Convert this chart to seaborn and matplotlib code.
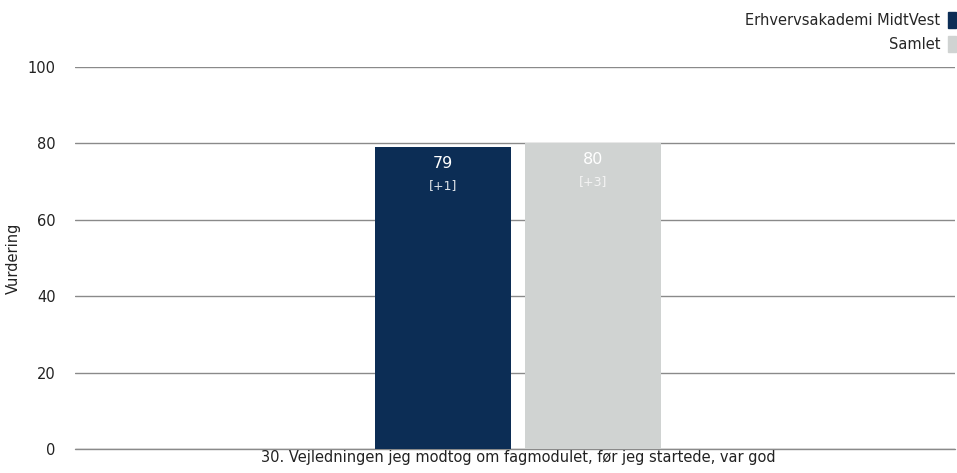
import matplotlib
matplotlib.use("Agg")
import matplotlib.pyplot as plt
import matplotlib.patches as mpatches
import pandas as pd
import seaborn as sns

# data
question = ["30. Vejledningen jeg modtog om fagmodulet, før jeg startede, var god"]
groups = ["Erhvervsakademi MidtVest", "Samlet"]
scores = [79, 80]
changes = ["[+1]", "[+3]"]
colors = ["#0c2d55", "#d0d3d2"]

df = pd.DataFrame({
    "spm": question * len(groups),
    "gruppe": groups,
    "score": scores,
})

sns.set_style("white")
plt.rcParams['font.family'] = ['DejaVu Sans']

fig = plt.figure(figsize=(9.57, 4.73), dpi=100)
ax = fig.add_axes([0.0784, 0.0507, 0.92, 0.8077])

sns.barplot(data=df, x="spm", y="score", hue="gruppe", palette=colors,
            width=0.34, gap=0.09, saturation=1, linewidth=0, ax=ax, legend=False)

ax.set_xlim(-0.503, 0.497)
ax.set_ylim(0, 100)
ax.set_yticks([0, 20, 40, 60, 80, 100])
ax.grid(axis='y', color='#8a8a8a', linewidth=1)
ax.axhline(0, color='#8a8a8a', linewidth=1, clip_on=False, zorder=0)
ax.set_axisbelow(True)
for s in ax.spines.values():
    s.set_visible(False)
ax.tick_params(axis='both', length=0, labelsize=10.5, colors='#222222')
ax.tick_params(axis='y', pad=14)
ax.tick_params(axis='x', pad=1)
ax.set_xlabel("")
ax.set_ylabel("Vurdering", fontsize=10.5, color='#222222', labelpad=5)

# value labels inside bars
label_cols = [("#ffffff", "#dfe4ea"), ("#ffffff", "#f4f4f4")]
for bar, val, chg, (c1, c2) in zip(ax.patches, scores, changes, label_cols):
    cx = bar.get_x() + bar.get_width() / 2
    top = bar.get_height()
    ax.text(cx, top - 2.2, str(val), ha='center', va='top', fontsize=11.5, color=c1)
    ax.text(cx, top - 8.2, chg, ha='center', va='top', fontsize=9, color=c2)

# legend top right
handles = [mpatches.Patch(color=c, label=g) for g, c in zip(groups, colors)]
fig.legend(handles=handles, loc='upper right', bbox_to_anchor=(1.013, 1.002),
           frameon=False, markerfirst=False, fontsize=10.5, handlelength=0.6,
           handleheight=1.3, handletextpad=0.5, labelspacing=0.55)

plt.savefig("out.png", dpi=100)
